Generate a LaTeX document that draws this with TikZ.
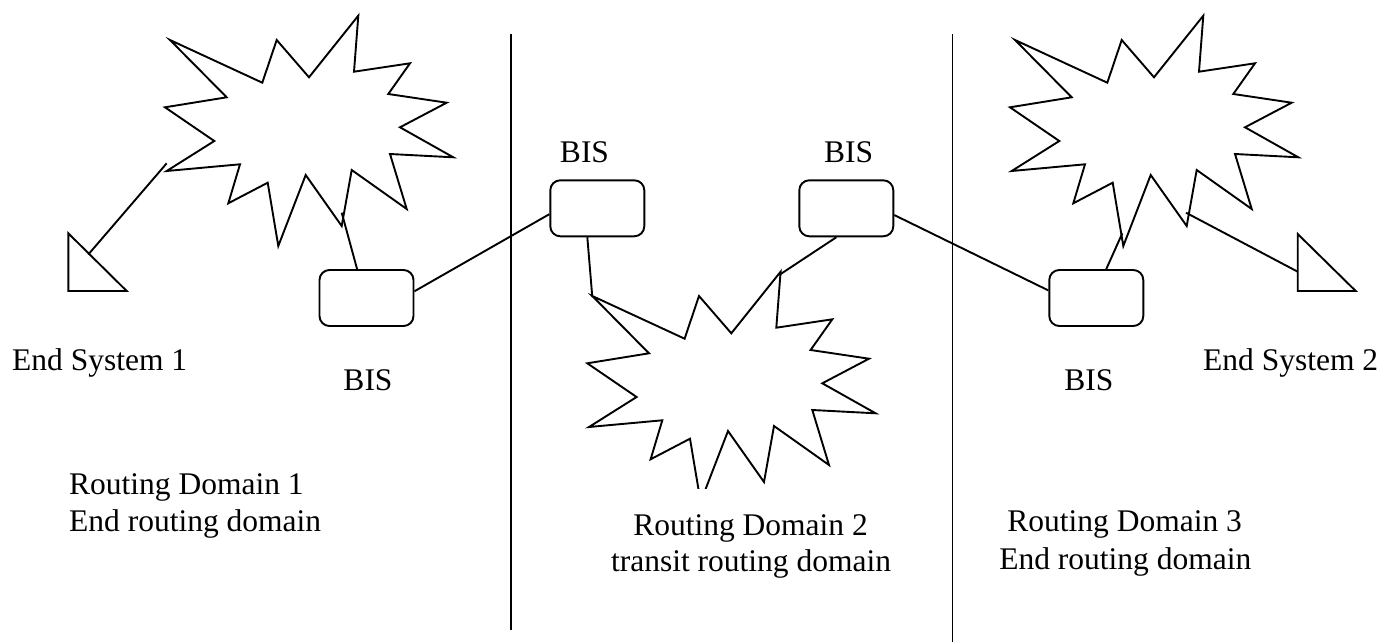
\documentclass[tikz,border=0pt]{standalone}
\usepackage{fontspec}
\setmainfont{Liberation Serif}
\begin{document}
\begin{tikzpicture}[x=1pt,y=-1pt,
  ln/.style={line width=1.9pt, draw=black},
  bis/.style={draw, line width=1.9pt, rounded corners=10pt, minimum width=94pt, minimum height=56pt, inner sep=0pt},
  lbl/.style={font=\fontsize{31.5}{37.5}\selectfont, inner sep=0pt},
  starburst/.pic={
    \draw[ln] (170,40) -- (262.3,82.7) -- (276.7,40) -- (309,77.3) -- (358.3,15.7)
      -- (354,71.7) -- (410,63.3) -- (388.3,94) -- (446.7,102.7) -- (400,127.3)
      -- (453.3,157.3) -- (390,154) -- (406.7,209) -- (351.7,170) -- (341.7,226)
      -- (305.7,175) -- (278.3,246) -- (267.7,182.7) -- (228.3,203.3) -- (240,164.3)
      -- (166.7,171) -- (214.3,141) -- (165,107.3) -- (226.7,97.3) -- cycle;
  }]
\useasboundingbox (0,0) rectangle (1382,642);
\fill[white] (0,0) rectangle (1382,642);

% clouds
\pic at (0,0) {starburst};
\begin{scope}
  \clip (0,0) rectangle (1382,488.3);
  \pic at (422.3,256) {starburst};
\end{scope}
\pic at (845,0) {starburst};

% domain separators
\draw[ln] (510.7,34) -- (510.7,630);
\draw[ln] (952.5,34) -- (952.5,642);

% end systems
\draw[ln] (68.3,233.3) -- (68.3,291) -- (126.7,291) -- cycle;
\draw[ln] (1297.7,234) -- (1297.7,291) -- (1355.7,291) -- cycle;

% BIS boxes
\node[bis] (b1) at (366.5,298) {};
\node[bis] (b2) at (597.3,208.3) {};
\node[bis] (b3) at (846.3,208.3) {};
\node[bis] (b4) at (1096.3,298) {};

% connector ends
\coordinate (s1a) at (166.7,163.3);
\coordinate (t1h) at (88.3,254.5);
\coordinate (s1b) at (341.7,212.7);
\coordinate (s2a) at (592.3,297);
\coordinate (s2b) at (780.7,274);
\coordinate (s3a) at (1122.3,233.3);
\coordinate (s3b) at (1186,212.7);
\coordinate (t2v) at (1297.7,271.7);

% connectors
\draw[ln] (s1a) -- (t1h);
\draw[ln] (b1.108.9) -- (s1b);
\draw[ln] (b1.8.6) -- (b2.187.9);
\draw[ln] (b2.251.7) -- (s2a);
\draw[ln] (b3.251.7) -- (s2b);
\draw[ln] (b3.352) -- (b4.171.7);
\draw[ln] (b4.71.9) -- (s3a);
\draw[ln] (s3b) -- (t2v);

% labels
\node[lbl, anchor=base west] (es1) at (12,370) {End System 1};
\node[lbl, anchor=base] (bl1) at (368,390) {BIS};
\node[lbl, anchor=base] (bl2) at (584.5,162.7) {BIS};
\node[lbl, anchor=base] (bl3) at (848.7,162.7) {BIS};
\node[lbl, anchor=base] (bl4) at (1088.8,390) {BIS};
\node[lbl, anchor=base west] (es2) at (1203,370) {End System 2};
\node[lbl, anchor=base west] (rd1a) at (69,494.3) {Routing Domain 1};
\node[lbl, anchor=base west] (rd1b) at (69,531.7) {End routing domain};
\node[lbl, anchor=base] (rd2a) at (750.5,535) {Routing Domain 2};
\node[lbl, anchor=base] (rd2b) at (751,571.7) {transit routing domain};
\node[lbl, anchor=base] (rd3a) at (1124.7,531.7) {Routing Domain 3};
\node[lbl, anchor=base] (rd3b) at (1125.3,569) {End routing domain};
\end{tikzpicture}
\end{document}
